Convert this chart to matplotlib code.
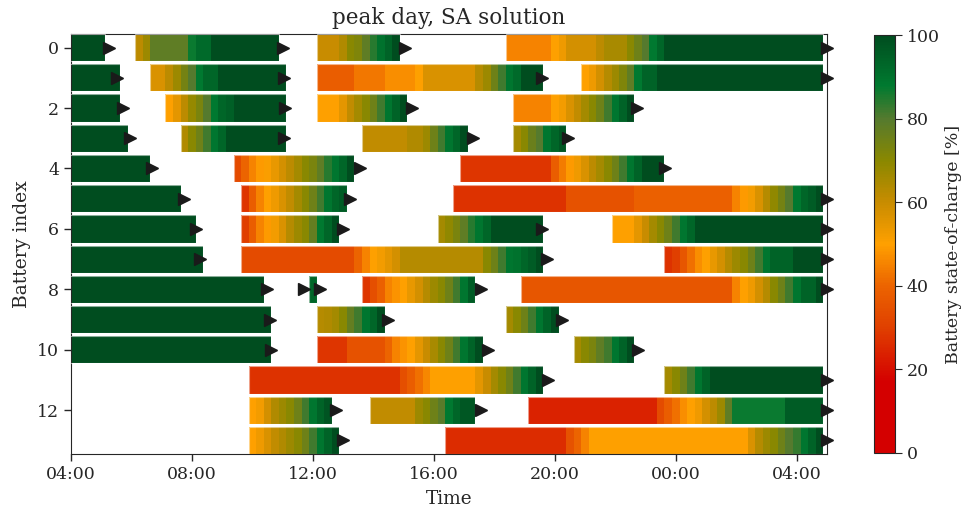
import numpy as np
import matplotlib
matplotlib.use("Agg")
import matplotlib.pyplot as plt
from matplotlib.colors import LinearSegmentedColormap, Normalize
from matplotlib.cm import ScalarMappable
from matplotlib.patches import Rectangle

# time grid: 15 min slots starting at 04:00, slot k is centred at 04:00 + k*15min
t0 = 4.0
dt = 0.25

# state-of-charge per battery: (first slot, [(number of slots, soc %), ...])
soc_b0 = [(0, [(5, 100)]),
          (9, [(1, 62), (1, 67), (5, 78), (1, 87), (2, 92), (9, 100)]),
          (33, [(3, 60), (1, 64), (1, 70), (1, 72), (1, 78), (1, 84), (1, 90), (1, 94), (1, 100)]),
          (58, [(6, 45), (1, 50), (1, 53), (4, 58), (1, 62), (3, 65), (1, 70), (1, 75), (1, 80), (1, 88), (1, 93), (21, 100)])]
soc_b1 = [(0, [(7, 100)]),
          (11, [(2, 57), (1, 62), (1, 67), (1, 74), (1, 80), (1, 88), (2, 93), (9, 100)]),
          (33, [(5, 38), (4, 43), (4, 47), (1, 50), (7, 57), (1, 63), (1, 67), (1, 75), (1, 82), (1, 89), (1, 92), (3, 100)]),
          (68, [(1, 50), (1, 53), (1, 58), (1, 63), (1, 67), (1, 72), (1, 78), (1, 88), (2, 94), (22, 100)])]
soc_b2 = [(0, [(7, 100)]),
          (13, [(1, 50), (1, 55), (1, 62), (1, 68), (1, 73), (1, 80), (1, 88), (1, 93), (1, 95), (7, 100)]),
          (33, [(3, 50), (1, 55), (1, 61), (1, 66), (1, 70), (1, 75), (1, 82), (1, 89), (1, 94), (1, 100)]),
          (59, [(5, 45), (1, 50), (1, 52), (1, 57), (1, 61), (1, 66), (1, 70), (1, 75), (1, 82), (1, 89), (1, 94), (1, 100)])]
soc_b3 = [(0, [(8, 100)]),
          (15, [(1, 64), (1, 70), (1, 75), (1, 82), (1, 89), (1, 93), (8, 100)]),
          (39, [(6, 61), (2, 64), (1, 67), (1, 75), (1, 82), (1, 89), (1, 93), (1, 100)]),
          (59, [(1, 66), (1, 70), (1, 76), (1, 80), (1, 89), (1, 93), (1, 97)])]
soc_b4 = [(0, [(11, 100)]),
          (22, [(1, 33), (1, 40), (1, 45), (1, 49), (1, 51), (1, 54), (1, 58), (1, 62), (1, 66), (1, 70), (1, 73), (1, 78), (1, 84), (1, 89), (1, 93), (1, 100)]),
          (52, [(12, 28), (1, 38), (1, 44), (1, 49), (1, 53), (1, 57), (1, 62), (1, 66), (1, 70), (1, 75), (1, 82), (1, 89), (1, 94), (3, 100)])]
soc_b5 = [(0, [(15, 100)]),
          (23, [(1, 28), (1, 38), (1, 45), (1, 50), (1, 53), (1, 57), (1, 61), (1, 66), (1, 70), (1, 75), (1, 82), (1, 89), (1, 93), (1, 96)]),
          (51, [(15, 27), (9, 35), (13, 39), (1, 45), (1, 49), (1, 52), (1, 57), (1, 63), (1, 69), (1, 74), (1, 80), (1, 88), (1, 93), (1, 96), (1, 100)])]
soc_b6 = [(0, [(17, 100)]),
          (23, [(1, 30), (1, 38), (1, 45), (1, 49), (1, 52), (1, 57), (1, 63), (1, 67), (1, 70), (1, 77), (1, 88), (1, 93), (1, 100)]),
          (49, [(1, 66), (1, 69), (1, 73), (1, 78), (1, 84), (1, 89), (1, 93), (7, 100)]),
          (72, [(3, 50), (1, 55), (1, 60), (1, 66), (1, 70), (1, 75), (1, 82), (1, 89), (1, 93), (17, 100)])]
soc_b7 = [(0, [(18, 100)]),
          (23, [(15, 33), (1, 40), (1, 45), (1, 50), (1, 52), (1, 55), (1, 58), (11, 63), (1, 70), (1, 75), (1, 82), (1, 89), (1, 90), (1, 93), (1, 96), (1, 100)]),
          (79, [(1, 27), (1, 30), (1, 36), (1, 42), (1, 47), (1, 50), (1, 54), (1, 58), (1, 63), (1, 67), (1, 70), (1, 75), (1, 82), (1, 89), (3, 94), (4, 100)])]
soc_b8 = [(0, [(26, 100)]),
          (32, [(1, 93)]),
          (39, [(1, 28), (1, 34), (1, 39), (1, 45), (1, 48), (1, 50), (1, 54), (1, 58), (1, 63), (1, 67), (1, 70), (1, 75), (1, 82), (1, 89), (1, 96)]),
          (60, [(28, 36), (1, 45), (1, 50), (1, 53), (1, 58), (1, 63), (1, 70), (1, 75), (1, 82), (1, 89), (2, 94), (1, 100)])]
soc_b9 = [(0, [(27, 100)]),
          (33, [(1, 63), (1, 64), (1, 66), (1, 70), (1, 77), (1, 82), (1, 89), (1, 93), (1, 100)]),
          (58, [(1, 66), (1, 70), (1, 75), (1, 82), (1, 89), (1, 94), (1, 100)])]
soc_b10 = [(0, [(27, 100)]),
           (33, [(4, 28), (5, 35), (1, 40), (1, 45), (1, 48), (1, 50), (1, 55), (1, 60), (1, 65), (1, 70), (1, 75), (1, 82), (1, 89), (1, 94), (1, 100)]),
           (67, [(1, 66), (1, 70), (1, 73), (1, 78), (1, 82), (1, 89), (1, 94), (1, 100)])]
soc_b11 = [(24, [(20, 27), (1, 34), (1, 38), (1, 42), (1, 46), (6, 50), (1, 55), (1, 60), (1, 66), (1, 70), (1, 75), (1, 82), (1, 89), (1, 94), (1, 100)]),
           (79, [(1, 66), (1, 70), (1, 75), (1, 82), (1, 89), (1, 94), (15, 100)])]
soc_b12 = [(24, [(1, 50), (1, 52), (1, 58), (1, 64), (1, 67), (1, 70), (1, 75), (1, 82), (1, 89), (1, 94), (1, 98)]),
           (40, [(6, 61), (1, 67), (1, 70), (1, 75), (1, 79), (1, 88), (1, 93), (2, 97)]),
           (61, [(17, 24), (1, 33), (1, 38), (1, 42), (1, 47), (1, 50), (1, 53), (1, 58), (1, 62), (1, 67), (1, 78), (7, 87), (5, 96)])]
soc_b13 = [(24, [(1, 50), (1, 53), (1, 57), (1, 61), (1, 64), (1, 67), (1, 70), (1, 75), (1, 82), (1, 89), (1, 94), (1, 100)]),
           (50, [(16, 26), (1, 35), (1, 40), (1, 45), (21, 50), (1, 57), (1, 63), (1, 67), (1, 70), (1, 75), (1, 80), (1, 83), (1, 89), (1, 94), (1, 100)])]

# departure markers, clock hours (values > 24 are the next day)
dep_b0 = [5.26, 11.01, 15.05, 29.0]
dep_b1 = [5.51, 11.03, 19.58, 29.0]
dep_b2 = [5.71, 11.09, 15.28, 22.73]
dep_b3 = [5.96, 11.05, 17.28, 20.43]
dep_b4 = [6.69, 13.55, 23.65]
dep_b5 = [7.74, 13.23, 29.0]
dep_b6 = [8.13, 13.0, 19.58, 29.0]
dep_b7 = [8.28, 19.75, 29.0]
dep_b8 = [10.48, 11.7, 12.25, 17.55, 29.0]
dep_b9 = [10.59, 14.5, 20.23]
dep_b10 = [10.61, 17.8, 22.75]
dep_b11 = [19.78, 29.0]
dep_b12 = [12.75, 17.55, 29.0]
dep_b13 = [13.0, 29.0]

soc_all = [soc_b0, soc_b1, soc_b2, soc_b3, soc_b4, soc_b5, soc_b6,
           soc_b7, soc_b8, soc_b9, soc_b10, soc_b11, soc_b12, soc_b13]
dep_all = [dep_b0, dep_b1, dep_b2, dep_b3, dep_b4, dep_b5, dep_b6,
           dep_b7, dep_b8, dep_b9, dep_b10, dep_b11, dep_b12, dep_b13]

plt.rcParams['font.family'] = 'DejaVu Serif'
plt.rcParams['font.size'] = 12.5
plt.rcParams['axes.edgecolor'] = '#262626'
plt.rcParams['xtick.color'] = '#262626'
plt.rcParams['ytick.color'] = '#262626'
plt.rcParams['text.color'] = '#262626'
plt.rcParams['axes.labelcolor'] = '#262626'

cmap = LinearSegmentedColormap.from_list("soc", [
    (0.0, '#d40000'), (0.17, '#d40000'), (0.30, '#e04000'), (0.40, '#ec6400'),
    (0.50, '#ffa000'), (0.60, '#c88c00'), (0.70, '#8a8800'), (0.80, '#557a2e'),
    (0.88, '#007a30'), (1.0, '#004d1f')])
norm = Normalize(0, 100)

fig = plt.figure(figsize=(9.67, 5.08), dpi=100)
ax = fig.add_axes([0.0734, 0.1063, 0.7818, 0.8267])
cax = fig.add_axes([0.9038, 0.1083, 0.0217, 0.8228])

h = 0.9
for b, segs in enumerate(soc_all):
    for start, runs in segs:
        vals = np.concatenate([[soc] * n for n, soc in runs]).astype(float)
        edges = t0 + (start - 0.5 + np.arange(len(vals) + 1)) * dt
        ax.pcolormesh(edges, [b - h / 2, b + h / 2], vals[None, :],
                      cmap=cmap, norm=norm)
        # pale outline round each block
        ax.add_patch(Rectangle((edges[0], b - h / 2), edges[-1] - edges[0], h,
                               fill=False, edgecolor='white', alpha=0.55,
                               linewidth=0.8, zorder=3))
    ax.plot(dep_all[b], [b] * len(dep_all[b]), '>', color='#1a1a1a',
            markersize=9, clip_on=False, zorder=5)

ax.set_xlim(4, 29)
ax.set_ylim(13.45, -0.45)
xt = np.arange(4, 29, 4)
ax.set_xticks(xt)
ax.set_xticklabels(["%02d:00" % (hh % 24) for hh in xt])
ax.set_yticks(np.arange(0, 13, 2))
ax.tick_params(direction='out', length=5, width=1)
ax.set_xlabel("Time", fontsize=13.3, labelpad=5)
ax.set_ylabel("Battery index", fontsize=13.5)
ax.set_title("peak day, SA solution", fontsize=15.5, pad=7)

cb = fig.colorbar(ScalarMappable(norm=norm, cmap=cmap), cax=cax)
cb.set_ticks(np.arange(0, 101, 20))
cb.set_label("Battery state-of-charge [%]", fontsize=12.5)
cb.ax.tick_params(length=5)

fig.savefig("out.png", dpi=100)
